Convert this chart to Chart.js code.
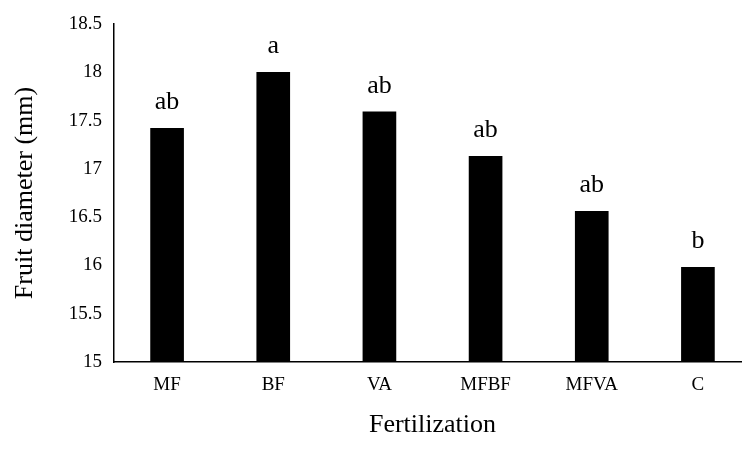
<!DOCTYPE html>
<html>
<head>
<meta charset="utf-8">
<script src="https://cdn.jsdelivr.net/npm/chart.js@4/dist/chart.umd.min.js"></script>
<style>
  html, body { margin: 0; padding: 0; background: #fff; overflow: hidden; }
  #wrap { width: 752px; height: 453px; position: relative; }
</style>
</head>
<body>
<div id="wrap"><canvas id="myChart"></canvas></div>
<script>
// Data
var treatments = ['MF', 'BF', 'VA', 'MFBF', 'MFVA', 'C'];
var diameters = [17.42, 18.0, 17.59, 17.13, 16.56, 15.98];
var groupLetters = ['ab', 'a', 'ab', 'ab', 'ab', 'b'];
var yTicks = [15, 15.5, 16, 16.5, 17, 17.5, 18, 18.5];

var serif = '"Liberation Serif", "Times New Roman", serif';

// Letters above every bar, placed from the bar elements
var letterPlugin = {
    id: 'letters',
    afterDatasetsDraw: function(chart) {
        var ctx = chart.ctx;
        var meta = chart.getDatasetMeta(0);
        ctx.save();
        ctx.font = '26px ' + serif;
        ctx.fillStyle = '#000';
        ctx.textAlign = 'center';
        ctx.textBaseline = 'bottom';
        meta.data.forEach(function(bar, i) {
            ctx.fillText(groupLetters[i], bar.x, bar.y - 13);
        });
        ctx.restore();
    }
};

var ctx = document.getElementById('myChart').getContext('2d');
var chart = new Chart(ctx, {
    type: 'bar',
    data: {
        labels: treatments,
        datasets: [{
            data: diameters,
            backgroundColor: '#000',
            borderWidth: 0,
            barThickness: 33
        }]
    },
    options: {
        responsive: true,
        maintainAspectRatio: false,
        animation: false,
        layout: { padding: { top: 24, right: 1, bottom: 0, left: 0 } },
        plugins: {
            legend: { display: false },
            tooltip: { enabled: false }
        },
        scales: {
            x: {
                grid: { display: false, drawTicks: false },
                border: { display: true, color: '#000', width: 1.5 },
                ticks: {
                    color: '#000',
                    padding: 12,
                    font: { family: serif, size: 19 }
                },
                title: {
                    display: true,
                    text: 'Fertilization',
                    color: '#000',
                    font: { family: serif, size: 26 },
                    padding: { top: 0, bottom: 12 }
                },
                afterFit: function(axis) { axis.height = 91; }
            },
            y: {
                min: 15,
                max: 18.5,
                afterBuildTicks: function(axis) {
                    axis.ticks = yTicks.map(function(v) { return { value: v }; });
                },
                grid: { display: false, drawTicks: false },
                border: { display: true, color: '#000', width: 1.5 },
                ticks: {
                    color: '#000',
                    padding: 12,
                    font: { family: serif, size: 19 },
                    callback: function(value) { return String(value); }
                },
                title: {
                    display: true,
                    text: 'Fruit diameter (mm)',
                    color: '#000',
                    font: { family: serif, size: 26 },
                    padding: { top: 10, bottom: 0 }
                },
                afterFit: function(axis) { axis.width = 114; }
            }
        }
    },
    plugins: [letterPlugin]
});
</script>
</body>
</html>
